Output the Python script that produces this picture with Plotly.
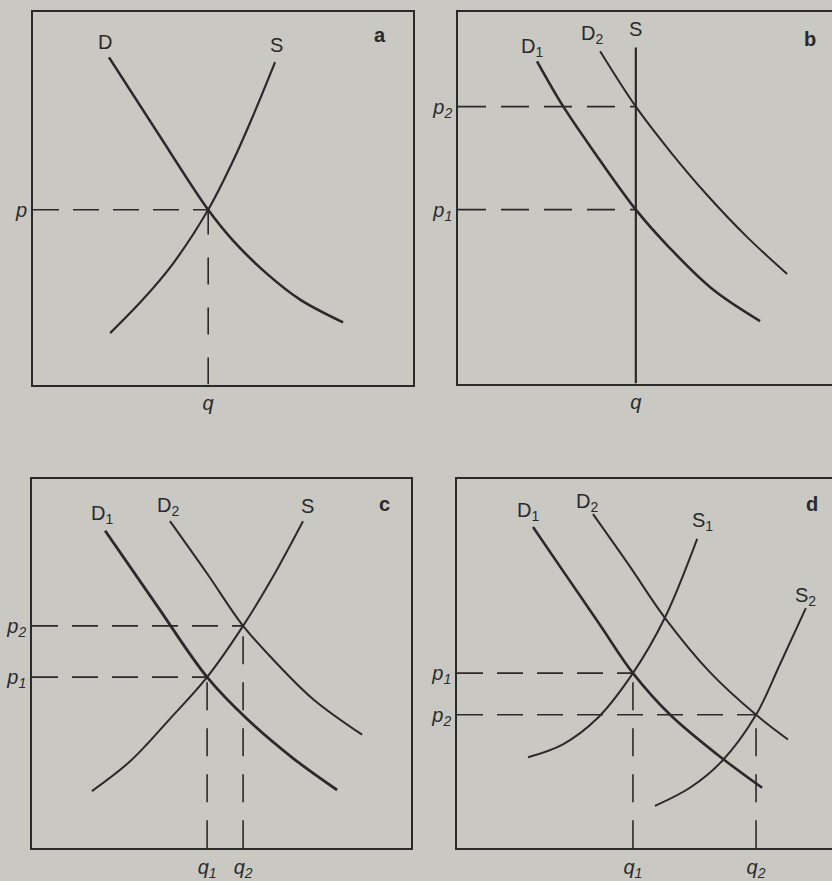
import plotly.graph_objects as go

# --- panel a: one demand, one supply ---
a_D_q = [2.0, 3.29, 4.61, 5.26, 6.16, 7.03, 8.16]
a_D_p = [8.78, 6.74, 4.69, 3.87, 2.97, 2.28, 1.67]
a_S_q = [2.03, 2.89, 3.68, 4.61, 5.26, 5.79, 6.37]
a_S_p = [1.38, 2.28, 3.24, 4.69, 5.99, 7.21, 8.65]
a_q, a_p = 4.61, 4.69

# --- panel b: vertical supply, demand shifts right ---
b_D1_q = [2.08, 2.76, 3.55, 4.68, 5.58, 6.71, 7.95]
b_D1_p = [8.67, 7.47, 6.28, 4.68, 3.64, 2.53, 1.68]
b_D2_q = [3.74, 4.68, 5.58, 6.55, 7.61, 8.66]
b_D2_p = [8.94, 7.45, 6.25, 5.08, 3.94, 2.95]
b_S_top = 9.04
b_q, b_p1, b_p2 = 4.68, 4.68, 7.45

# --- panel c: demand shifts right along normal supply ---
c_D1_q = [1.93, 3.27, 4.62, 5.67, 6.89, 8.05]
c_D1_p = [8.61, 6.62, 4.64, 3.51, 2.44, 1.58]
c_D2_q = [3.64, 4.62, 5.57, 6.36, 7.41, 8.71]
c_D2_p = [8.87, 7.45, 6.03, 5.12, 4.05, 3.08]
c_S_q = [1.58, 2.59, 3.64, 4.62, 5.57, 6.36, 7.15]
c_S_p = [1.55, 2.36, 3.51, 4.64, 6.03, 7.37, 8.87]
c_q1, c_p1, c_q2, c_p2 = 4.62, 4.64, 5.57, 6.03

# --- panel d: both curves shift ---
d_D1_q = [2.0, 2.87, 3.76, 4.63, 5.61, 6.84, 8.03]
d_D1_p = [8.71, 7.40, 6.06, 4.75, 3.62, 2.55, 1.64]
d_D2_q = [3.58, 4.53, 5.47, 6.66, 7.87, 8.71]
d_D2_p = [9.06, 7.67, 6.25, 4.77, 3.62, 2.95]
d_S1_q = [1.87, 2.79, 3.68, 4.63, 5.47, 6.32]
d_S1_p = [2.47, 2.82, 3.51, 4.75, 6.25, 8.39]
d_S2_q = [5.21, 6.13, 6.97, 7.87, 8.50, 9.18]
d_S2_p = [1.15, 1.64, 2.36, 3.62, 4.99, 6.51]
d_q1, d_p1, d_q2, d_p2 = 4.63, 4.75, 7.87, 3.62

INK = '#2a2a2a'
BG = '#c9c8c2'
FONT = 'Liberation Sans, Arial, sans-serif'
W, H = 832, 881

fig = go.Figure()


def curve(q, p, ax, width=2.4):
    fig.add_trace(go.Scatter(
        x=q, y=p, xaxis='x' + ax, yaxis='y' + ax, mode='lines',
        line=dict(color=INK, width=width, shape='spline', smoothing=1.0),
        hoverinfo='skip', showlegend=False))


def dashed(q, p, ax, dash='26px,14px'):
    fig.add_trace(go.Scatter(
        x=q, y=p, xaxis='x' + ax, yaxis='y' + ax, mode='lines',
        line=dict(color=INK, width=1.6, dash=dash),
        hoverinfo='skip', showlegend=False))


def label(text, x, y, ax, bold=False):
    fig.add_annotation(
        text=f'<b>{text}</b>' if bold else text, x=x, y=y,
        xref='x' + ax, yref='y' + ax, showarrow=False,
        font=dict(family=FONT, size=20, color=INK))


# panel a
curve(a_D_q, a_D_p, '', 2.6)
curve(a_S_q, a_S_p, '', 2.2)
dashed([0, a_q], [a_p, a_p], '')
dashed([a_q, a_q], [0, a_p], '', '27px,23px')
label('D', 1.89, 9.18, '')
label('S', 6.42, 9.12, '')
label('a', 9.13, 9.39, '', True)

# panel b
curve(b_D1_q, b_D1_p, '2', 2.6)
curve(b_D2_q, b_D2_p, '2', 2.0)
curve([b_q, b_q], [0, b_S_top], '2', 2.2)
dashed([0, b_q], [b_p1, b_p1], '2', '28px,15px')
dashed([0, b_q], [b_p2, b_p2], '2', '28px,15px')
label('D<sub>1</sub>', 1.95, 9.04, '2')
label('D<sub>2</sub>', 3.53, 9.39, '2')
label('S', 4.68, 9.55, '2')
label('b', 9.26, 9.28, '2', True)

# panel c
curve(c_D1_q, c_D1_p, '3', 2.8)
curve(c_D2_q, c_D2_p, '3', 2.0)
curve(c_S_q, c_S_p, '3', 2.0)
dashed([0, c_q1], [c_p1, c_p1], '3')
dashed([0, c_q2], [c_p2, c_p2], '3')
dashed([c_q1, c_q1], [0, c_p1], '3', '28px,18px')
dashed([c_q2, c_q2], [0, c_p2], '3', '28px,18px')
label('D<sub>1</sub>', 1.85, 9.06, '3')
label('D<sub>2</sub>', 3.59, 9.28, '3')
label('S', 7.28, 9.28, '3')
label('c', 9.31, 9.33, '3', True)

# panel d
curve(d_D1_q, d_D1_p, '4', 2.6)
curve(d_D2_q, d_D2_p, '4', 2.0)
curve(d_S1_q, d_S1_p, '4', 2.0)
curve(d_S2_q, d_S2_p, '4', 2.0)
dashed([0, d_q1], [d_p1, d_p1], '4')
dashed([0, d_q2], [d_p2, d_p2], '4')
dashed([d_q1, d_q1], [0, d_p1], '4', '28px,18px')
dashed([d_q2, d_q2], [0, d_p2], '4', '28px,18px')
label('D<sub>1</sub>', 1.87, 9.12, '4')
label('D<sub>2</sub>', 3.42, 9.38, '4')
label('S<sub>1</sub>', 6.45, 8.85, '4')
label('S<sub>2</sub>', 9.16, 6.84, '4')
label('d', 9.34, 9.33, '4', True)

tick_font = dict(family=FONT, size=20, color=INK, style='italic')


def axes(x0, x1, top, bottom, vals_x, text_x, vals_y, text_y, closed):
    # pixel box -> paper domain; open-right panels run off the page edge
    xr = 10 if closed else (W - x0) / 38.0
    xa = dict(domain=[x0 / W, min(x1, W) / W], range=[0, xr],
              showgrid=False, zeroline=False, showline=True, mirror=True,
              linecolor=INK, linewidth=1.6, ticks='',
              tickvals=vals_x, ticktext=text_x, tickfont=tick_font,
              fixedrange=True)
    ya = dict(domain=[1 - bottom / H, 1 - top / H], range=[0, 10],
              showgrid=False, zeroline=False, showline=True, mirror=closed,
              linecolor=INK, linewidth=1.6, ticks='',
              tickvals=vals_y, ticktext=text_y, tickfont=tick_font,
              fixedrange=True)
    return xa, ya


xa1, ya1 = axes(33, 413, 12, 389, [a_q], ['q'], [a_p], ['p'], True)
xa2, ya2 = axes(458, 838, 12, 388, [b_q], ['q'], [b_p1, b_p2],
                ['p<sub>1</sub>', 'p<sub>2</sub>'], False)
xa3, ya3 = axes(32, 411, 485, 858, [c_q1, c_q2],
                ['q<sub>1</sub>', 'q<sub>2</sub>'], [c_p1, c_p2],
                ['p<sub>1</sub>', 'p<sub>2</sub>'], True)
xa4, ya4 = axes(457, 837, 485, 858, [d_q1, d_q2],
                ['q<sub>1</sub>', 'q<sub>2</sub>'], [d_p1, d_p2],
                ['p<sub>1</sub>', 'p<sub>2</sub>'], False)

fig.update_layout(
    width=W, height=H,
    margin=dict(l=0, r=0, t=0, b=0),
    paper_bgcolor=BG, plot_bgcolor=BG,
    font=dict(family=FONT, color=INK),
    showlegend=False,
    xaxis=dict(xa1, anchor='y'), yaxis=dict(ya1, anchor='x'),
    xaxis2=dict(xa2, anchor='y2'), yaxis2=dict(ya2, anchor='x2'),
    xaxis3=dict(xa3, anchor='y3'), yaxis3=dict(ya3, anchor='x3'),
    xaxis4=dict(xa4, anchor='y4'), yaxis4=dict(ya4, anchor='x4'),
)

# drop the browser's default body margin so the figure sits at the page corner
fig.write_html("out.html", config={'displayModeBar': False}, post_script=(
    "document.body.style.margin='0';"
    "document.body.style.background='" + BG + "';"))
